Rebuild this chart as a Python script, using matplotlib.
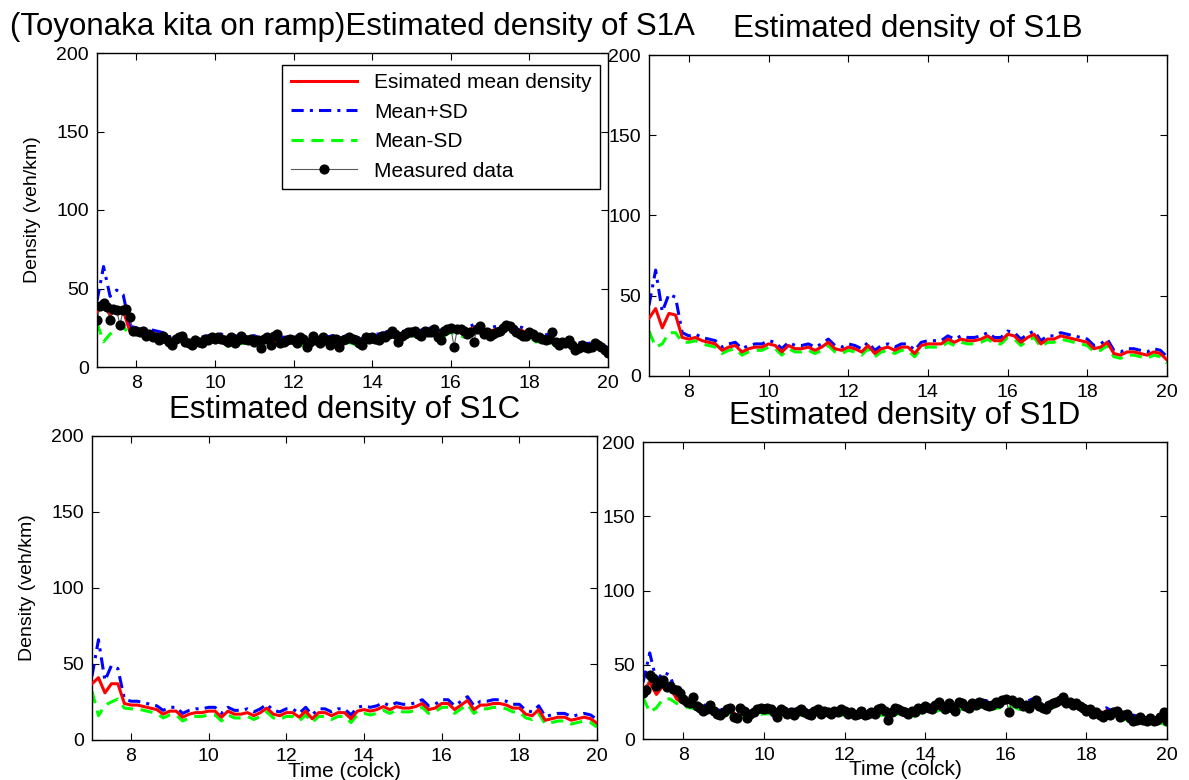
import numpy as np
import matplotlib.pyplot as plt

plt.rcParams['font.family'] = ['Liberation Sans', 'DejaVu Sans']

# estimated series, 10-minute steps from 7:00 to 20:00
mean_s1a = [35, 40, 33, 37, 36, 23,
            23, 22, 22, 21, 20, 17,
            19, 18, 15, 17, 17, 18,
            19, 19, 15, 18, 17, 17,
            18, 16, 18, 16, 17, 17,
            18, 17, 14, 18, 15, 17,
            18, 16, 18, 17, 15, 18,
            19, 19, 20, 22, 20, 21,
            22, 21, 22, 23, 21, 22,
            24, 23, 21, 24, 26, 21,
            23, 24, 25, 25, 24, 23,
            21, 18, 18, 19, 15, 14,
            15, 14, 13, 13, 14, 13,
            10]
sd_s1a = [7, 24, 12, 12, 10, 3] + [2] * 73

mean_s1b = [36, 42, 30, 39, 38, 24,
            23, 24, 22, 21, 20, 16,
            18, 19, 15, 17, 18, 18,
            20, 19, 15, 19, 17, 17,
            18, 16, 18, 21, 17, 16,
            18, 17, 15, 19, 14, 17,
            18, 16, 18, 18, 14, 19,
            20, 20, 20, 23, 21, 23,
            22, 22, 23, 25, 22, 22,
            26, 25, 21, 24, 26, 20,
            23, 23, 25, 24, 23, 22,
            21, 17, 18, 21, 14, 13,
            15, 15, 14, 13, 15, 14,
            10]
sd_s1b = [8, 24, 10, 12, 11, 3] + [2] * 73

mean_s1c = [37, 41, 31, 37, 37, 24,
            23, 23, 22, 21, 20, 17,
            19, 19, 15, 17, 18, 18,
            19, 19, 15, 19, 17, 17,
            18, 16, 18, 21, 17, 16,
            18, 18, 15, 19, 14, 18,
            18, 16, 18, 18, 14, 19,
            20, 19, 20, 22, 20, 22,
            21, 21, 22, 24, 20, 21,
            24, 24, 20, 23, 26, 20,
            23, 23, 24, 24, 23, 21,
            21, 17, 16, 20, 13, 14,
            15, 15, 13, 14, 15, 14,
            11]
sd_s1c = [5, 25, 8, 12, 10, 3] + [2.5] * 73

mean_s1d = [33, 38, 30, 36, 35, 27,
            24, 23, 22, 21, 20, 17,
            18, 19, 16, 17, 18, 18,
            19, 19, 17, 19, 18, 18,
            18, 17, 18, 18, 17, 18,
            18, 17, 16, 18, 16, 18,
            18, 17, 19, 18, 16, 19,
            20, 20, 21, 22, 21, 22,
            22, 22, 23, 24, 22, 23,
            25, 24, 22, 23, 25, 22,
            22, 23, 25, 25, 23, 22,
            20, 18, 17, 19, 16, 15,
            15, 14, 13, 13, 14, 13,
            11]
sd_s1d = [5, 20, 9, 9, 8, 3] + [2] * 73

# measured density, 5-minute steps from 7:00 to 20:00
meas_s1a = [30, 39, 41, 38, 30, 37, 36, 27, 36, 37, 32, 23,
            23, 22, 23, 20, 21, 19, 19, 17, 20, 18, 16, 14,
            18, 19, 20, 16, 15, 14, 17, 16, 15, 18, 17, 19,
            18, 19, 18, 17, 16, 19, 15, 17, 20, 18, 17, 18,
            16, 17, 12, 18, 19, 14, 20, 21, 15, 16, 17, 18,
            17, 15, 19, 18, 13, 16, 20, 17, 15, 19, 17, 14,
            18, 18, 13, 17, 18, 19, 18, 17, 15, 14, 19, 18,
            19, 18, 17, 20, 19, 21, 23, 21, 16, 20, 21, 22,
            22, 23, 21, 20, 23, 22, 22, 24, 19, 17, 23, 24,
            25, 13, 24, 24, 23, 21, 22, 16, 24, 26, 21, 22,
            20, 21, 22, 23, 25, 27, 26, 24, 22, 21, 20, 20,
            22, 21, 19, 19, 18, 17, 18, 22, 16, 14, 16, 15,
            17, 14, 11, 12, 14, 13, 12, 13, 15, 14, 13, 11,
            9]

meas_s1d = [31, 33, 43, 41, 36, 38, 40, 35, 36, 34, 33, 31,
            27, 25, 24, 28, 22, 21, 19, 20, 23, 19, 17, 16,
            18, 20, 21, 15, 14, 21, 19, 14, 17, 18, 20, 21,
            20, 21, 20, 18, 15, 20, 19, 17, 18, 16, 19, 20,
            18, 17, 16, 19, 20, 17, 19, 18, 17, 19, 18, 20,
            19, 17, 18, 16, 17, 19, 16, 17, 18, 17, 20, 21,
            19, 13, 18, 21, 20, 19, 18, 17, 19, 18, 21, 20,
            22, 21, 20, 23, 25, 22, 20, 24, 21, 19, 25, 24,
            22, 21, 24, 23, 25, 24, 23, 22, 23, 25, 24, 26,
            27, 18, 26, 24, 25, 22, 23, 21, 24, 26, 22, 21,
            20, 23, 24, 25, 26, 28, 24, 25, 23, 24, 22, 21,
            19, 20, 17, 18, 16, 15, 17, 16, 18, 19, 15, 16,
            17, 14, 12, 13, 15, 13, 12, 14, 12, 13, 15, 18,
            12]

t_est = 7 + np.arange(len(mean_s1a)) / 6.0
t_meas = 7 + np.arange(len(meas_s1a)) / 12.0

titles = ['(Toyonaka kita on ramp)Estimated density of S1A',
          'Estimated density of S1B',
          'Estimated density of S1C',
          'Estimated density of S1D']
means = [mean_s1a, mean_s1b, mean_s1c, mean_s1d]
sds = [sd_s1a, sd_s1b, sd_s1c, sd_s1d]
measured = [meas_s1a, None, None, meas_s1d]

W, H = 1189, 780
# axes boxes in pixels: left, top, right, bottom
boxes = [(97, 53, 608, 367),
         (649, 55, 1167, 376),
         (92, 436, 597, 740),
         (643, 442, 1167, 739)]

fig = plt.figure(figsize=(W / 100, H / 100), dpi=100)

for i, (l, t, r, b) in enumerate(boxes):
    ax = fig.add_axes([l / W, (H - b) / H, (r - l) / W, (b - t) / H])
    m = np.array(means[i], dtype=float)
    s = np.array(sds[i], dtype=float)
    ax.plot(t_est, m, color='red', lw=2.2, label='Esimated mean density', zorder=3)
    ax.plot(t_est, m + s, color='blue', lw=2.2, ls=(0, (4, 2, 1, 2)), label='Mean+SD', zorder=2)
    ax.plot(t_est, m - s, color='#00ff00', lw=2.2, ls=(0, (4, 2.5)), label='Mean-SD', zorder=2)
    if measured[i] is not None:
        ax.plot(t_meas, measured[i], color='0.35', lw=0.8, marker='o', ms=6.3,
                mfc='k', mec='k', label='Measured data', zorder=4)

    ax.set_xlim(7, 20)
    ax.set_ylim(0, 200)
    ax.set_xticks([8, 10, 12, 14, 16, 18, 20])
    ax.set_yticks([0, 50, 100, 150, 200])
    ax.tick_params(direction='in', top=True, right=True, length=5,
                   labelsize=14, pad=6)
    for sp in ax.spines.values():
        sp.set_linewidth(1.0)
    ax.set_title(titles[i], fontsize=22.5, pad=13)

    if i in (0, 2):
        ax.set_ylabel('Density (veh/km)', fontsize=14)
        ax.yaxis.set_label_coords(-56 / (r - l), 0.5)
    if i in (2, 3):
        ax.set_xlabel('Time (colck)', fontsize=15)
        ax.xaxis.set_label_coords(0.5, -0.072)
        ax.xaxis.label.set_va('top')

    if i == 0:
        leg = ax.legend(loc='upper right', bbox_to_anchor=(0.984, 0.962),
                        fontsize=15, handlelength=3.2, labelspacing=0.5,
                        fancybox=False, framealpha=1, edgecolor='k',
                        borderaxespad=0, numpoints=1)
        leg.get_frame().set_linewidth(1.0)

fig.savefig('out.png', dpi=100)
